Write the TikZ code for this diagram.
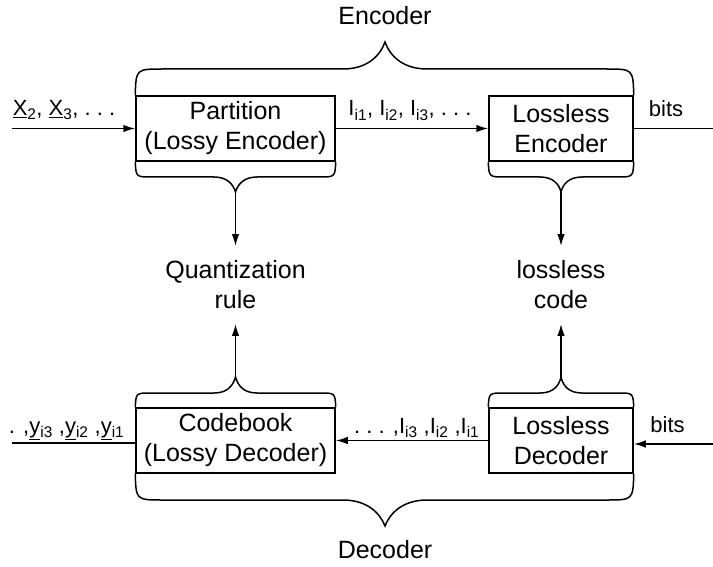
\documentclass[tikz,border=0pt]{standalone}
\usepackage{fontspec}
\setmainfont{Liberation Sans}
\usetikzlibrary{arrows.meta}
\begin{document}
\begin{tikzpicture}[x=1bp,y=-1bp,
  line width=1.5bp,
  big/.style={font=\fontsize{25bp}{30bp}\selectfont, align=center},
  small/.style={font=\fontsize{22bp}{26bp}\selectfont, inner sep=0pt},
  block/.style={big, draw, inner sep=0pt, minimum height=65bp},
  result/.style={big, inner xsep=2bp, inner ysep=14bp},
  flow/.style={-{Latex[length=12bp,width=7.5bp]}},
]
\useasboundingbox (0,0) rectangle (713,567);

% processing blocks
\node[block, minimum width=199bp] (part) at (235.5,128.5) {Partition\\(Lossy Encoder)};
\node[block, minimum width=144bp] (lenc) at (561,128.5) {Lossless\\Encoder};
\node[block, minimum width=199bp] (cbook) at (235.5,440.5) {Codebook\\(Lossy Decoder)};
\node[block, minimum width=144bp] (ldec) at (561,440.5) {Lossless\\Decoder};

% side results
\node[result] (qrule) at (235.5,285) {Quantization\\rule};
\node[result] (lcode) at (561,285) {lossless\\code};

% group titles
\node[big] (enc) at (385,16) {Encoder};
\node[big] (dec) at (385,550) {Decoder};

% external ends
\coordinate (xin) at (12,128.5);
\coordinate (bout) at (713,128.5);
\coordinate (bin) at (713,444);
\coordinate (yout) at (12,443);

% brace tips
\coordinate (tpart) at (235.5,192);
\coordinate (tlenc) at (561,192);
\coordinate (tcbook) at (235.5,377);
\coordinate (tldec) at (561,377);

% encoder brace
\draw (part.north west) .. controls (136,69) .. (163,69) -- (343,69)
  .. controls (367,69) and (380,56) .. (385,42)
  .. controls (390,56) and (403,69) .. (427,69) -- (606,69)
  .. controls (633,69) .. (lenc.north east);
% decoder brace
\draw (cbook.south west) .. controls (136,500) .. (163,500) -- (343,500)
  .. controls (367,500) and (380,513) .. (385,526)
  .. controls (390,513) and (403,500) .. (427,500) -- (606,500)
  .. controls (633,500) .. (ldec.south east);

% small braces below the encoder blocks
\draw (part.south west) .. controls (136,177) .. (152,177) -- (214,177)
  .. controls (227,177) and (233,184) .. (tpart)
  .. controls (238,184) and (244,177) .. (257,177) -- (319,177)
  .. controls (335,177) .. (part.south east);
\draw (lenc.south west) .. controls (489,177) .. (505,177) -- (540,177)
  .. controls (553,177) and (559,184) .. (tlenc)
  .. controls (563,184) and (569,177) .. (582,177) -- (617,177)
  .. controls (633,177) .. (lenc.south east);

% small braces above the decoder blocks
\draw (cbook.north west) .. controls (136,393) .. (151,393) -- (214,393)
  .. controls (227,393) and (233,386) .. (tcbook)
  .. controls (238,386) and (244,393) .. (257,393) -- (320,393)
  .. controls (335,393) .. (cbook.north east);
\draw (ldec.north west) .. controls (489,393) .. (504,393) -- (540,393)
  .. controls (553,393) and (559,386) .. (tldec)
  .. controls (563,386) and (569,393) .. (582,393) -- (618,393)
  .. controls (633,393) .. (ldec.north east);

% connectors
\draw[flow] (xin) -- (part.west);
\draw[flow] (part.east) -- (lenc.west);
\draw (lenc.east) -- (bout);
\draw[flow] (bin) -- (bin -| ldec.east);
\draw[flow] (ldec.west) -- (cbook.east);
\draw (yout -| cbook.west) -- (yout);
\draw[flow] (tpart) -- (qrule.north);
\draw[flow] (tlenc) -- (lcode.north);
\draw[flow] (tcbook) -- (qrule.south);
\draw[flow] (tldec) -- (lcode.south);

% signal labels
\node[small, anchor=base west] (lx) at (12,115.5)
  {\underline{X}\textsubscript{2}, \underline{X}\textsubscript{3}, .\ .\ .};
\node[small, anchor=base] (li) at (410,116)
  {I\textsubscript{i1}, I\textsubscript{i2}, I\textsubscript{i3}, .\ .\ .};
\node[small, anchor=base] (lbo) at (666,117) {bits};
\node[small, anchor=base] (lbi) at (667.5,432) {bits};
\node[small, anchor=base east] (lid) at (480,433)
  {.\ .\ . ,I\textsubscript{i3} ,I\textsubscript{i2} ,I\textsubscript{i1}};
\node[small, anchor=base east] (ly) at (125,433)
  {. ,\underline{y}\textsubscript{i3} ,\underline{y}\textsubscript{i2} ,\underline{y}\textsubscript{i1}};
\end{tikzpicture}
\end{document}
